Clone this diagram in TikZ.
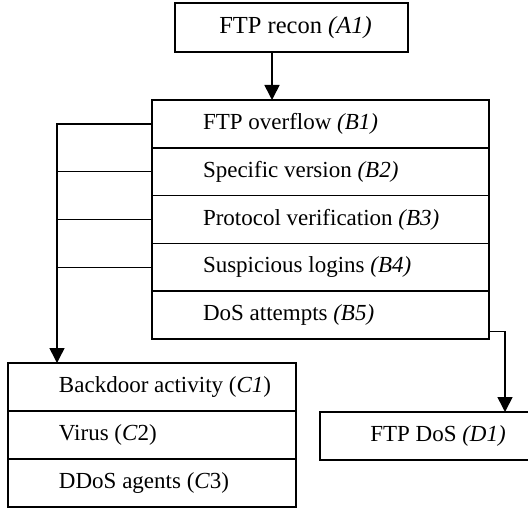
\documentclass[tikz,border=0pt]{standalone}
\usepackage{fontspec}
\setmainfont{Liberation Serif}
\usetikzlibrary{arrows.meta,calc}

% left-aligned cell text: fixed width, fixed left indent
\newcommand\celltext[2]{\makebox[#1][l]{\hspace{51bp}#2}}

\begin{document}
\begin{tikzpicture}[x=1bp,y=-1bp,
  every node/.style={font=\fontsize{23bp}{27bp}\selectfont, outer sep=0pt},
  boxnode/.style={draw, line width=1.6bp, rectangle, inner xsep=0pt, inner ysep=0pt, minimum height=#1},
  boxnode/.default=48bp,
  wire/.style={line width=1.6bp},
  arr/.style={wire, -{Triangle[width=15bp,length=15bp]}}]
\path[use as bounding box, clip] (0,0) rectangle (528,512);

% top box
\node[boxnode=49bp, minimum width=233bp, font=\fontsize{24.5bp}{28bp}\selectfont] (A1) at (291.5,27.5) {\hspace{8bp}FTP recon \textit{(A1)}};

% stacked B entries
\node[boxnode=47.8bp] (B1) at (320.5,123.9) {\celltext{337bp}{FTP overflow \textit{(B1)}}};
\node[boxnode=47.8bp] (B2) at (320.5,171.7) {\celltext{337bp}{Specific version \textit{(B2)}}};
\node[boxnode=47.8bp] (B3) at (320.5,219.5) {\celltext{337bp}{Protocol verification \textit{(B3)}}};
\node[boxnode=47.8bp] (B4) at (320.5,267.3) {\celltext{337bp}{Suspicious logins \textit{(B4)}}};
\node[boxnode=47.8bp] (B5) at (320.5,315.1) {\celltext{337bp}{DoS attempts \textit{(B5)}}};

% stacked C entries
\node[boxnode] (C1) at (152,387) {\celltext{288bp}{Backdoor activity (\textit{C1})}};
\node[boxnode] (C2) at (152,435) {\celltext{288bp}{Virus (\textit{C}2)}};
\node[boxnode] (C3) at (152,483) {\celltext{288bp}{DDoS agents (\textit{C}3)}};

% DoS box, running off the right edge
\node[boxnode, minimum width=236bp] (D1) at (438,436) {FTP DoS \textit{(D1)}};

% connectors
\draw[arr] ([xshift=-19.5bp]A1.south) -- ([xshift=-19.5bp]A1.south |- B1.north);

\coordinate (bus) at ([xshift=-95bp]C1.north);
\draw[arr] (B1.west) -| (bus);
\draw[wire] (B2.west) -- (B2.west -| bus);
\draw[wire] (B3.west) -- (B3.west -| bus);
\draw[wire] (B4.west) -- (B4.west -| bus);

\draw[arr] ([yshift=-16.5bp]B5.east) -| ([xshift=67bp]D1.north);
\end{tikzpicture}
\end{document}
